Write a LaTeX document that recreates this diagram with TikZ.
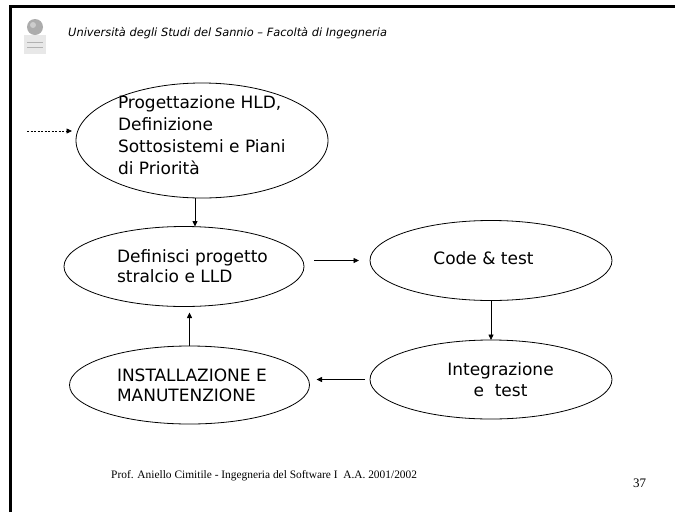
\documentclass[tikz,border=0pt]{standalone}
\usepackage{fontspec}
\setmainfont{DejaVu Sans}
\newfontfamily\timesf{Liberation Serif}
\usetikzlibrary{shapes.geometric,arrows.meta,calc}
\begin{document}
\begin{tikzpicture}[x=1pt,y=-1pt,
  oval/.style={ellipse,draw,line width=0.8pt,inner sep=0pt,outer sep=0pt},
  lbl/.style={inner sep=0pt,outer sep=0pt,font=\fontsize{17}{#1}\selectfont},
  arr/.style={line width=0.8pt,-{Triangle[length=5.5pt,width=5pt]}},
  frame/.style={line width=3pt},
]
\useasboundingbox (0,0) rectangle (675,512);
\fill[white] (0,0) rectangle (675,512);
\draw[frame] (10,512) -- (10,6.5) -- (675,6.5);
% logo
\fill[gray!18] (24,35) rectangle (46,54);
\draw[gray!60,line width=1pt] (27,42) -- (43,42) (27,47) -- (43,47);
\fill[gray!65] (35,27) circle (8);
\fill[gray!40] (33,25) circle (3);
% header
\node[anchor=base west,inner sep=0pt,font=\fontsize{11.4}{13}\selectfont\itshape] (hdr) at (68,36.5) {Università degli Studi del Sannio – Facoltà di Ingegneria};
% ellipses
\node[oval,minimum width=252pt,minimum height=115pt] (e1) at (202,140.5) {};
\node[oval,minimum width=240pt,minimum height=80pt] (e2) at (184,266.5) {};
\node[oval,minimum width=242pt,minimum height=80pt] (e3) at (491,260.5) {};
\node[oval,minimum width=240pt,minimum height=78pt] (e4) at (189.5,385) {};
\node[oval,minimum width=242pt,minimum height=79pt] (e5) at (491,379.5) {};
% texts
\node[lbl=22,anchor=north west,align=left] (t1) at (118,95.5) {Progettazione HLD,\\Definizione\\Sottosistemi e Piani\\di Priorità};
\node[lbl=20.5,anchor=north west,align=left] (t2) at (117,249.5) {Definisci progetto\\stralcio e LLD};
\node[lbl=20,anchor=north] (t3) at (483.5,251.8) {Code \& test};
\node[lbl=19.5,anchor=north west,align=left] (t4) at (117,369.3) {INSTALLAZIONE E\\MANUTENZIONE};
\node[lbl=20.5,anchor=north,align=center] (t5) at (500.5,362.6) {Integrazione\\e\ \ test};
% connectors
\coordinate (x1) at (195,0);
\coordinate (ds) at (27,131);
\draw[arr,dash pattern=on 2pt off 1.5pt] (ds) -- ([xshift=-4pt]ds -| e1.west);
\draw[arr] (e1.south -| x1) -- (e2.north -| x1);
\draw[arr] ([xshift=10pt]e2.east |- e3.west) -- ([xshift=-11pt]e3.west);
\draw[arr] (e3.south) -- (e5.north);
\draw[arr] ([xshift=-5pt]e5.west) -- ([xshift=7pt]e4.east |- e5.west);
\draw[arr] (e4.north) -- ([yshift=-6pt]e2.south -| e4.north);
% footer
\node[anchor=base west,inner sep=0pt,font=\timesf\fontsize{11.4}{13}\selectfont] (ftr) at (111,478) {Prof. Aniello Cimitile - Ingegneria del Software I\ \ A.A. 2001/2002};
\node[anchor=base west,inner sep=0pt,font=\timesf\fontsize{13}{15}\selectfont] (pg) at (633,487) {37};
\end{tikzpicture}
\end{document}
